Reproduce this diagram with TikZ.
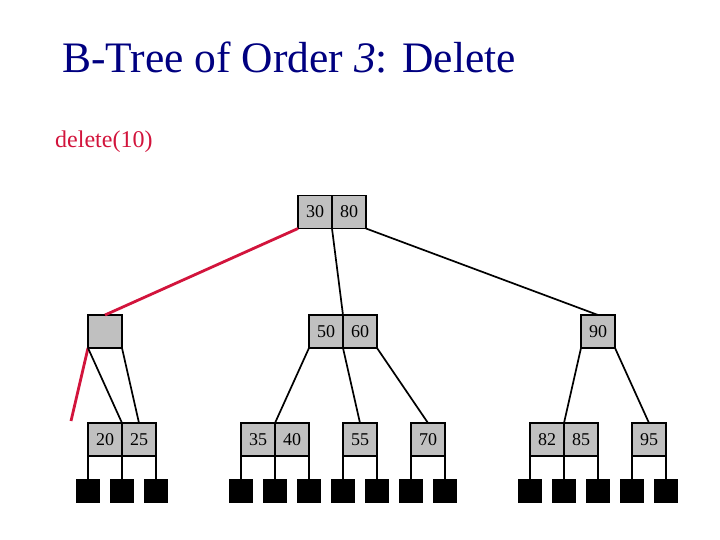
\documentclass[tikz,border=0pt]{standalone}
\usepackage{fontspec}
\setmainfont{Liberation Serif}
\usepackage{xcolor}
\usetikzlibrary{positioning, calc}

\definecolor{titleblue}{RGB}{0,0,128}
\definecolor{delred}{RGB}{210,20,60}
\definecolor{keygray}{RGB}{192,192,192}

\begin{document}
\begin{tikzpicture}[
    x=1pt, y=-1pt,
    every node/.style={font=\fontsize{18}{20}\selectfont},
    key/.style={
        rectangle,
        draw,
        line width=1.3pt,
        fill=keygray,
        minimum width=34pt,
        minimum height=33pt,
        inner sep=0pt,
        outer sep=0pt
    },
    leaf/.style={
        rectangle,
        fill=black,
        minimum size=24pt,
        inner sep=0pt,
        outer sep=0pt
    },
    link/.style={
        line width=1.7pt
    },
    dellink/.style={
        line width=2.8pt,
        delred
    }
]
\useasboundingbox (0,0) rectangle (720,540);

% Titre
\node[anchor=base west, inner sep=0pt, text=titleblue,
      font=\fontsize{43.5}{48}\selectfont] (titre) at (62,73)
      {B-Tree of Order \textit{3}: Delete};
\node[anchor=base west, inner sep=0pt, text=delred,
      font=\fontsize{24}{28}\selectfont] (op) at (55,148) {delete(10)};

% Racine
\node[key] (k30) at (315,212) {30};
\node[key, right=0pt of k30] (k80) {80};

% Niveau 2
\node[key] (vide) at (105,331.5) {};
\node[key] (k50) at (326,331.5) {50};
\node[key, right=0pt of k50] (k60) {60};
\node[key] (k90) at (598,331.5) {90};

% Niveau 3
\node[key] (k20) at (105,439.5) {20};
\node[key, right=0pt of k20] (k25) {25};
\node[key] (k35) at (258,439.5) {35};
\node[key, right=0pt of k35] (k40) {40};
\node[key] (k55) at (360,439.5) {55};
\node[key] (k70) at (428,439.5) {70};
\node[key] (k82) at (547,439.5) {82};
\node[key, right=0pt of k82] (k85) {85};
\node[key] (k95) at (649,439.5) {95};

% Feuilles
\foreach \x [count=\i] in {88,122,156,241,275,309,343,377,411,445,530,564,598,632,666}
    \node[leaf] (f\i) at (\x,491) {};

\coordinate (libre) at (71,421);

% Liens
\draw[dellink] (k30.south west) -- (vide.north);
\draw[dellink] (vide.south west) -- (libre);
\draw[link] (k30.south east) -- (k50.north east);
\draw[link] (k80.south east) -- (k90.north);

\draw[link] (vide.south west) -- (k20.north east);
\draw[link] (vide.south east) -- (k25.north);
\draw[link] (k50.south west) -- (k35.north east);
\draw[link] (k50.south east) -- (k55.north);
\draw[link] (k60.south east) -- (k70.north);
\draw[link] (k90.south west) -- (k82.north east);
\draw[link] (k90.south east) -- (k95.north);

% Pointeurs vers les feuilles
\draw[link] (k20.south west) -- (f1.north);
\draw[link] (k20.south east) -- (f2.north);
\draw[link] (k25.south east) -- (f3.north);
\draw[link] (k35.south west) -- (f4.north);
\draw[link] (k35.south east) -- (f5.north);
\draw[link] (k40.south east) -- (f6.north);
\draw[link] (k55.south west) -- (f7.north);
\draw[link] (k55.south east) -- (f8.north);
\draw[link] (k70.south west) -- (f9.north);
\draw[link] (k70.south east) -- (f10.north);
\draw[link] (k82.south west) -- (f11.north);
\draw[link] (k82.south east) -- (f12.north);
\draw[link] (k85.south east) -- (f13.north);
\draw[link] (k95.south west) -- (f14.north);
\draw[link] (k95.south east) -- (f15.north);

\end{tikzpicture}
\end{document}
